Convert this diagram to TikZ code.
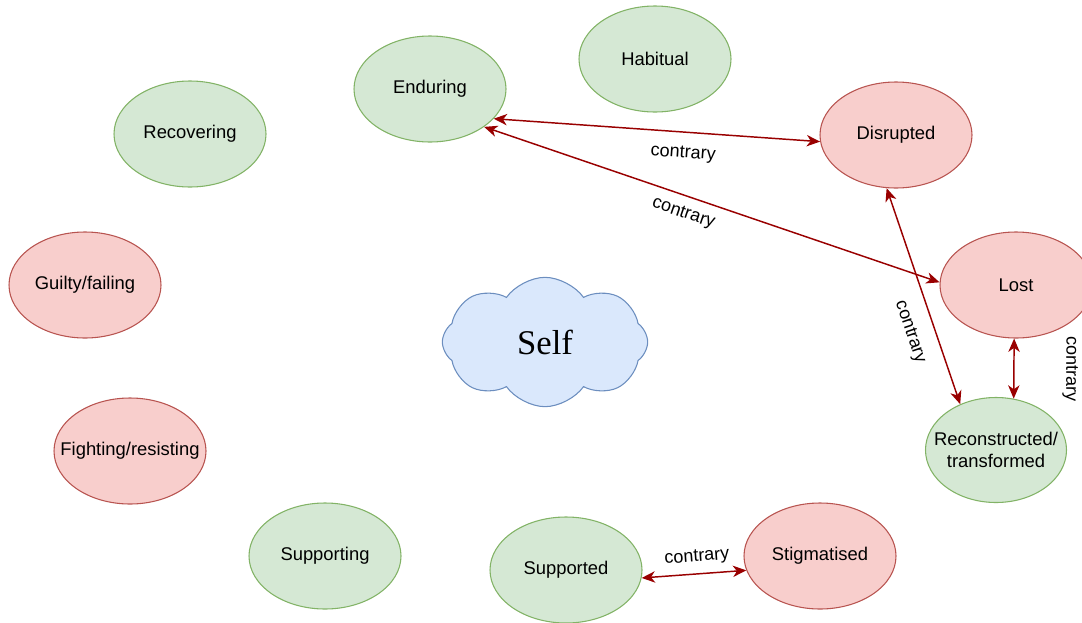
\documentclass[tikz,border=0pt]{standalone}
\usepackage{fontspec}
\setmainfont{Liberation Sans}
\newfontfamily\selffont{Liberation Serif}
\usetikzlibrary{shapes.geometric,shapes.symbols,arrows.meta}
\definecolor{goodfill}{HTML}{D5E8D4}
\definecolor{gooddraw}{HTML}{82B366}
\definecolor{badfill}{HTML}{F8CECC}
\definecolor{baddraw}{HTML}{B85450}
\definecolor{cloudfill}{HTML}{DAE8FC}
\definecolor{clouddraw}{HTML}{6C8EBF}
\definecolor{contra}{HTML}{990000}

\begin{document}
\begin{tikzpicture}[x=0.75pt,y=-0.75pt]
	\useasboundingbox (0,0) rectangle (1082,622);
	\begin{scope}[every node/.style={ellipse,draw,line width=0.8pt,inner sep=0pt,minimum width=114pt,minimum height=79.5pt,align=center,font=\fontsize{13.8}{16}\selectfont},
		good/.style={fill=goodfill,draw=gooddraw},
		bad/.style={fill=badfill,draw=baddraw}]
		\node[good] (E) at (430,89) {Enduring};
		\node[good] (H) at (655,59) {Habitual};
		\node[good] (Rv) at (190,134) {Recovering};
		\node[bad] (D) at (896,135) {Disrupted};
		\node[bad] (G) at (85,285) {Guilty/failing};
		\node[bad] (L) at (1016,285) {Lost};
		\node[bad] (F) at (130,451) {\makebox[0pt]{Fighting/resisting}};
		\node[good,minimum width=105.75pt,minimum height=78.75pt] (Rc) at (996,450) {\makebox[0pt]{Reconstructed/}\\\makebox[0pt]{transformed}};
		\node[good] (Sg) at (325,556) {Supporting};
		\node[good] (Sd) at (566,570) {Supported};
		\node[bad] (St) at (820,556) {Stigmatised};
	\end{scope}
	
	\node[cloud,draw=clouddraw,fill=cloudfill,line width=0.8pt,cloud puffs=8,cloud puff arc=110,cloud ignores aspect,minimum width=154pt,minimum height=97pt,font=\selffont\fontsize{26}{30}\selectfont] (S) at (545,342) {Self};
	
	\begin{scope}[>={Stealth[length=10pt,width=8.5pt,inset=3pt]},
		every edge/.style={draw=contra,line width=1.1pt},
		every node/.style={font=\fontsize{13.5}{16}\selectfont,inner sep=2pt}]
		\path [<->] (E.-25) edge node[sloped,pos=0.585,below=8pt] (c1) {contrary} (D.185);
		\path [<->] (E.-35) edge node[sloped,pos=0.45,below=5pt] (c2) {contrary} (L.178);
		\path [<->] (D.-100) edge node[sloped,pos=0.63,below=10pt] (c3) {contrary} (Rc.128);
		\path [<->] (L.-92) edge node[sloped,allow upside down,above=34pt] (c4) {contrary} (Rc.71.5);
		\path [<->] (Sd.-6) edge node[sloped,pos=0.54,above=4pt] (c5) {contrary} (St.191);
	\end{scope}
\end{tikzpicture}
\end{document}
